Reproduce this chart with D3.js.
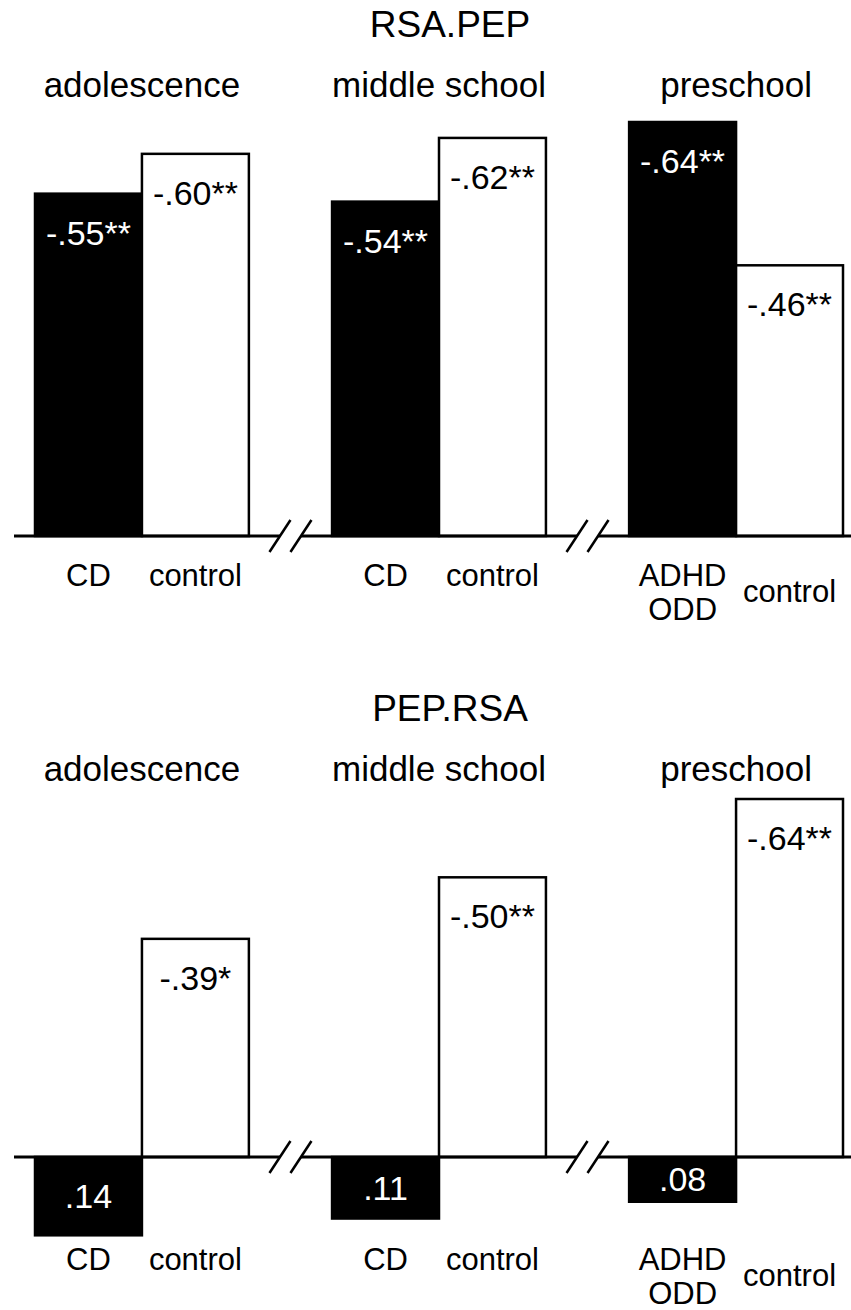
<!DOCTYPE html>
<html>
<head>
<meta charset="utf-8">
<script src="https://cdn.jsdelivr.net/npm/d3@7"></script>
<style>
	body { margin: 0; background: #fff; }
	svg { display: block; font-family: "Liberation Sans", Arial, Helvetica, sans-serif; }
</style>
</head>
<body>
<svg id="chart" width="851" height="1310"></svg>
<script>
var groups = ['adolescence', 'middle school', 'preschool'],
	clinicalNames = [['CD'], ['CD'], ['ADHD', 'ODD']],
	controlName = 'control',
	titles = ['RSA.PEP', 'PEP.RSA']

// correlation values
var rsaPepClinical = [-0.55, -0.54, -0.64],
	rsaPepControl = [-0.60, -0.62, -0.46],
	rsaPepClinicalSig = ['**', '**', '**'],
	rsaPepControlSig = ['**', '**', '**']

var pepRsaClinical = [0.14, 0.11, 0.08],
	pepRsaControl = [-0.39, -0.50, -0.64],
	pepRsaClinicalSig = ['', '', ''],
	pepRsaControlSig = ['*', '**', '**']

var svg = d3.select('#chart')

var x = d3.scaleBand()
	.domain(groups)
	.range([35, 843])
	.paddingInner(0.28)
	.paddingOuter(0)

var xInner = d3.scaleBand()
	.domain(['clinical', 'control'])
	.range([0, x.bandwidth()])

// plain hyphen and no leading zero, like "-.55"
var fmt = d3.formatLocale({decimal: '.', thousands: ',', grouping: [3], currency: ['', ''], minus: '-'}).format('.2f')
function label(v, sig) {
	return fmt(v).replace('0.', '.') + sig
}

// the top panel's axis is cut off at -.12, the bottom one starts at 0
var panels = [
	{top: 0, base: 536, domain: [-0.12, -0.64], rangeTop: 122,
		clinical: rsaPepClinical, control: rsaPepControl,
		clinicalSig: rsaPepClinicalSig, controlSig: rsaPepControlSig},
	{top: 684, base: 473, domain: [0, -0.64], rangeTop: 115,
		clinical: pepRsaClinical, control: pepRsaControl,
		clinicalSig: pepRsaClinicalSig, controlSig: pepRsaControlSig}
]

panels.forEach(function(p, pi) {
	var g = svg.append('g')
		.attr('transform', 'translate(0,' + p.top + ')')

	var y = d3.scaleLinear()
		.domain(p.domain)
		.range([p.base, p.rangeTop])

	g.append('text')
		.attr('x', 450)
		.attr('y', 37)
		.attr('text-anchor', 'middle')
		.style('font-size', '37px')
		.text(titles[pi])

	g.selectAll('.group-label')
		.data(groups)
		.enter().append('text')
		.attr('class', 'group-label')
		.attr('x', function(d) { return x(d) + x.bandwidth() / 2 })
		.attr('y', 97)
		.attr('text-anchor', 'middle')
		.style('font-size', '35px')
		.text(function(d) { return d })

	var bars = []
	groups.forEach(function(grp, i) {
		bars.push({group: grp, kind: 'clinical', value: p.clinical[i], sig: p.clinicalSig[i], i: i})
		bars.push({group: grp, kind: 'control', value: p.control[i], sig: p.controlSig[i], i: i})
	})

	var y0 = y(p.domain[0])

	g.selectAll('.bar')
		.data(bars)
		.enter().append('rect')
		.attr('class', 'bar')
		.attr('x', function(d) { return x(d.group) + xInner(d.kind) })
		.attr('width', xInner.bandwidth())
		.attr('y', function(d) { return Math.min(y(d.value), y0) })
		.attr('height', function(d) { return Math.abs(y(d.value) - y0) })
		.style('fill', function(d) { return d.kind === 'clinical' ? '#000' : '#fff' })
		.style('stroke', '#000')
		.style('stroke-width', 2.5)

	g.selectAll('.value')
		.data(bars)
		.enter().append('text')
		.attr('class', 'value')
		.attr('x', function(d) { return x(d.group) + xInner(d.kind) + xInner.bandwidth() / 2 })
		.attr('y', function(d) {
			if (d.value < 0) return y(d.value) + 51
			return (y(d.value) + y0) / 2 + 12
		})
		.attr('text-anchor', 'middle')
		.style('font-size', '34px')
		.style('fill', function(d) { return d.kind === 'clinical' ? '#fff' : '#000' })
		.text(function(d) { return label(d.value, d.sig) })

	// baseline with break marks between the groups
	var breaks = groups.slice(1).map(function(d) {
		return x(d) - x.step() * x.paddingInner() / 2
	})
	var segs = [14]
	breaks.forEach(function(b) { segs.push(b - 10.5, b + 10.5) })
	segs.push(851)
	for (var s = 0; s < segs.length; s += 2) {
		g.append('line')
			.attr('x1', segs[s]).attr('x2', segs[s + 1])
			.attr('y1', y0).attr('y2', y0)
			.style('stroke', '#000')
			.style('stroke-width', 3)
	}
	breaks.forEach(function(b) {
		[-21, 0].forEach(function(dx) {
			g.append('line')
				.attr('x1', b + dx).attr('y1', y0 + 16)
				.attr('x2', b + dx + 21).attr('y2', y0 - 16)
				.style('stroke', '#000')
				.style('stroke-width', 2.5)
		})
	})

	// category labels under the bars
	groups.forEach(function(grp, i) {
		var names = clinicalNames[i]
		var cx = x(grp) + xInner('clinical') + xInner.bandwidth() / 2
		var t = g.append('text')
			.attr('text-anchor', 'middle')
			.style('font-size', '31px')
		names.forEach(function(n, k) {
			t.append('tspan')
				.attr('x', cx)
				.attr('y', 586 + k * 34)
				.text(n)
		})
		g.append('text')
			.attr('x', x(grp) + xInner('control') + xInner.bandwidth() / 2)
			.attr('y', 586 + (names.length - 1) * 16)
			.attr('text-anchor', 'middle')
			.style('font-size', '31px')
			.text(controlName)
	})
})
</script>
</body>
</html>
